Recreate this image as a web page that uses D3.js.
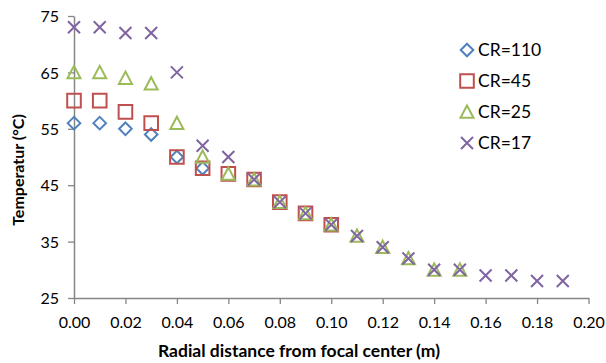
<!DOCTYPE html>
<html>
<head>
<meta charset="utf-8">
<script src="https://cdn.jsdelivr.net/npm/d3@7"></script>
<style>
  body { margin: 0; background: #fff; }
  text { font-family: Lato, "Open Sans", sans-serif; fill: #000; }
</style>
</head>
<body>
<svg id="chart" width="606" height="363"></svg>
<script>
// ---- data ----
const xValues = [0.00,0.01,0.02,0.03,0.04,0.05,0.06,0.07,0.08,0.09,0.10,0.11,0.12,0.13,0.14,0.15,0.16,0.17,0.18,0.19];
const cr110 = [56,56,55,54,50,48];
const cr45  = [60,60,58,56,50,48,47,46,42,40,38];
const cr25  = [65,65,64,63,56,50,47,46,42,40,38,36,34,32,30,30];
const cr17  = [73,73,72,72,65,52,50,46,42,40,38,36,34,32,30,30,29,29,28,28];
const seriesNames = ["CR=110","CR=45","CR=25","CR=17"];
const xTicks = [0.00,0.02,0.04,0.06,0.08,0.10,0.12,0.14,0.16,0.18,0.20];
const yTicks = [25,35,45,55,65,75];

const series = [
  {name: seriesNames[0], values: cr110, shape: "diamond", color: "#4F81BD"},
  {name: seriesNames[1], values: cr45,  shape: "square",  color: "#C0504D"},
  {name: seriesNames[2], values: cr25,  shape: "triangle",color: "#9BBB59"},
  {name: seriesNames[3], values: cr17,  shape: "x",       color: "#8064A2"}
];

const svg = d3.select("#chart");
const x = d3.scaleLinear().domain([0, 0.20]).range([74, 588.5]);
const y = d3.scaleLinear().domain([25, 75]).range([298, 16]);

const axisColor = "#868686";

// axes
const xAxis = svg.append("g").attr("transform", "translate(0,298)")
  .call(d3.axisBottom(x).tickValues(xTicks).tickFormat(d3.format(".2f")).tickSize(6).tickSizeOuter(0));
const yAxis = svg.append("g").attr("transform", "translate(74,0)")
  .call(d3.axisLeft(y).tickValues(yTicks).tickSize(6).tickSizeOuter(0));
[xAxis, yAxis].forEach(a => {
  a.selectAll("path.domain").attr("stroke", axisColor).attr("stroke-width", 1.5);
  a.selectAll(".tick line").attr("stroke", axisColor).attr("stroke-width", 1.3);
  a.selectAll(".tick text").style("font-family", "Lato, 'Open Sans', sans-serif")
    .style("font-size", "16px").attr("fill", "#000");
});
xAxis.selectAll(".tick text").attr("dy", "0").attr("y", 30);
yAxis.selectAll(".tick text").attr("x", -15).attr("dy", "0.36em");

// marker path generator
function markerPath(shape) {
  switch (shape) {
    case "diamond": { const r = 6.3; return `M0,${-r}L${r},0L0,${r}L${-r},0Z`; }
    case "square":  { const r = 6.8; return `M${-r},${-r}H${r}V${r}H${-r}Z`; }
    case "triangle":{ const w = 6.5, h = 6.5; return `M0,${-h}L${w},${h*0.9}L${-w},${h*0.9}Z`; }
    case "x":       { const r = 6; return `M${-r},${-r}L${r},${r}M${r},${-r}L${-r},${r}`; }
  }
}

series.forEach(s => {
  svg.append("g").selectAll("path")
    .data(s.values.map((v, i) => [xValues[i], v]))
    .join("path")
    .attr("transform", d => `translate(${x(d[0])},${y(d[1])})`)
    .attr("d", markerPath(s.shape))
    .attr("fill", "none")
    .attr("stroke", s.color)
    .attr("stroke-width", 2);
});

// legend
const legend = svg.append("g");
series.forEach((s, i) => {
  const ly = 50 + i * 31;
  legend.append("path").attr("transform", `translate(467,${ly})`)
    .attr("d", markerPath(s.shape)).attr("fill", "none")
    .attr("stroke", s.color).attr("stroke-width", 2);
  legend.append("text").attr("x", 478).attr("y", ly).attr("dy", "0.36em")
    .style("font-size", "17.5px").text(s.name);
});

// axis titles
svg.append("text").attr("x", 299).attr("y", 357)
  .attr("text-anchor", "middle").style("font-size", "17.5px").style("font-weight", "bold")
  .text("Radial distance from focal center (m)");
svg.append("text").attr("transform", "translate(24,170) rotate(-90)")
  .attr("text-anchor", "middle").style("font-size", "16px").style("font-weight", "bold")
  .text("Temperatur (°C)");
</script>
</body>
</html>
